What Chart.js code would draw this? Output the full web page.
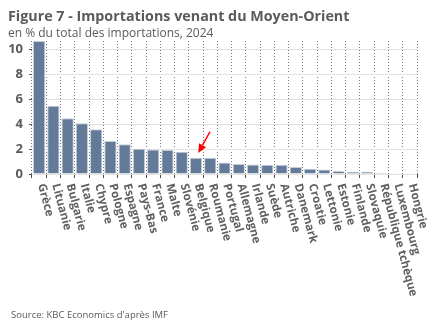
<!DOCTYPE html>
<html>
<head>
<meta charset="utf-8">
<script src="https://cdn.jsdelivr.net/npm/chart.js@4/dist/chart.umd.min.js"></script>
<style>
  html, body { margin: 0; padding: 0; background: #ffffff; }
  #wrap { position: relative; width: 432px; height: 334px; overflow: hidden; }
  canvas { position: absolute; left: 0; top: 0; }
</style>
</head>
<body>
<div id="wrap"><canvas id="c" width="432" height="334"></canvas></div>
<script>
const titleText = "Figure 7 - Importations venant du Moyen-Orient";
const subtitleText = "en % du total des importations, 2024";
const sourceText = "Source: KBC Economics d'après IMF";

const countries = ["Grèce", "Lituanie", "Bulgarie", "Italie", "Chypre", "Pologne", "Espagne", "Pays-Bas", "France", "Malte", "Slovénie", "Belgique", "Roumanie", "Portugal", "Allemagne", "Irlande", "Suède", "Autriche", "Danemark", "Croatie", "Lettonie", "Estonie", "Finlande", "Slovaquie", "République tchèque", "Luxembourg", "Hongrie"];
const importShare = [10.7, 5.5, 4.48, 4.08, 3.6, 2.66, 2.4, 2.03, 1.98, 1.93, 1.79, 1.3, 1.3, 0.93, 0.8, 0.77, 0.75, 0.75, 0.56, 0.42, 0.37, 0.24, 0.19, 0.19, 0.1, 0.06, 0.06];
const yTicks = [0, 2, 4, 6, 8, 10];
const highlighted = "Belgique";

const FONT = "'Open Sans', 'Noto Sans', sans-serif";
const TEXT = "#5a5a5a";

const decor = {
  id: 'decor',
  afterDraw(chart) {
    const ctx = chart.ctx;
    const xs = chart.scales.x, ys = chart.scales.y;
    ctx.save();
    // titles
    ctx.fillStyle = TEXT;
    ctx.textAlign = 'left';
    ctx.textBaseline = 'alphabetic';
    ctx.font = "bold 14.3px " + FONT;
    ctx.fillText(titleText, 8, 21);
    ctx.font = "12px " + FONT;
    ctx.fillText(subtitleText, 8, 37);
    ctx.font = "9.5px " + FONT;
    ctx.fillText(sourceText, 11, 318);
    // rotated category labels
    ctx.font = "bold 11.6px " + FONT;
    ctx.fillStyle = "#606060";
    ctx.textBaseline = 'middle';
    const ang = 75 * Math.PI / 180;
    countries.forEach((name, i) => {
      const x = xs.getPixelForValue(i) + 2;
      const y = xs.bottom + 6;
      ctx.save();
      ctx.translate(x, y);
      ctx.rotate(ang);
      ctx.fillText(name, 0, 0);
      ctx.restore();
    });
    // red arrow to highlighted bar
    const hi = countries.indexOf(highlighted);
    const v = importShare[hi];
    const tx = xs.getPixelForValue(hi + 0.16), ty = ys.getPixelForValue(v + 0.38);
    const sx = xs.getPixelForValue(hi + 0.98), sy = ys.getPixelForValue(v + 2.1);
    const a = Math.atan2(ty - sy, tx - sx);
    const hl = 9, hw = 4;
    const bx = tx - hl * Math.cos(a), by = ty - hl * Math.sin(a);
    ctx.strokeStyle = "#ff0000";
    ctx.fillStyle = "#ff0000";
    ctx.lineWidth = 1.5;
    ctx.beginPath();
    ctx.moveTo(sx, sy);
    ctx.lineTo(bx, by);
    ctx.stroke();
    ctx.beginPath();
    ctx.moveTo(tx, ty);
    ctx.lineTo(bx + hw * Math.sin(a), by - hw * Math.cos(a));
    ctx.lineTo(bx - hw * Math.sin(a), by + hw * Math.cos(a));
    ctx.closePath();
    ctx.fill();
    ctx.restore();
  }
};

new Chart(document.getElementById('c'), {
  type: 'bar',
  data: {
    labels: countries,
    datasets: [{
      data: importShare,
      backgroundColor: '#637a99',
      borderColor: '#c5cdd8',
      borderWidth: 1,
      categoryPercentage: 1,
      barPercentage: 0.86
    }]
  },
  options: {
    responsive: false,
    devicePixelRatio: 1,
    animation: false,
    events: [],
    layout: { padding: { top: 41, right: 15, bottom: 156, left: 0 } },
    plugins: { legend: { display: false }, tooltip: { enabled: false } },
    scales: {
      x: {
        type: 'category',
        offset: true,
        afterFit: s => { s.height = 4; },
        ticks: { display: false },
        grid: {
          offset: true,
          color: ctx => ctx.index === countries.length ? 'rgba(0,0,0,0)' : '#7a7a7a',
          lineWidth: 1,
          drawTicks: true,
          tickLength: 4,
          tickColor: '#4a4a4a',
          tickBorderDash: [],
          tickWidth: 1
        },
        border: { display: false, dash: [1, 2] }
      },
      y: {
        min: 0,
        max: 10.7,
        afterFit: s => { s.width = 32; },
        ticks: {
          stepSize: 1,
          includeBounds: false,
          padding: 6,
          color: TEXT,
          font: { family: FONT, size: 13, weight: 'bold' },
          callback: v => yTicks.includes(v) ? String(v) : ''
        },
        grid: {
          color: '#e2e2e2',
          lineWidth: 1,
          drawTicks: true,
          tickLength: 3,
          tickColor: '#555555'
        },
        border: { display: false }
      }
    }
  },
  plugins: [decor]
});
</script>
</body>
</html>
